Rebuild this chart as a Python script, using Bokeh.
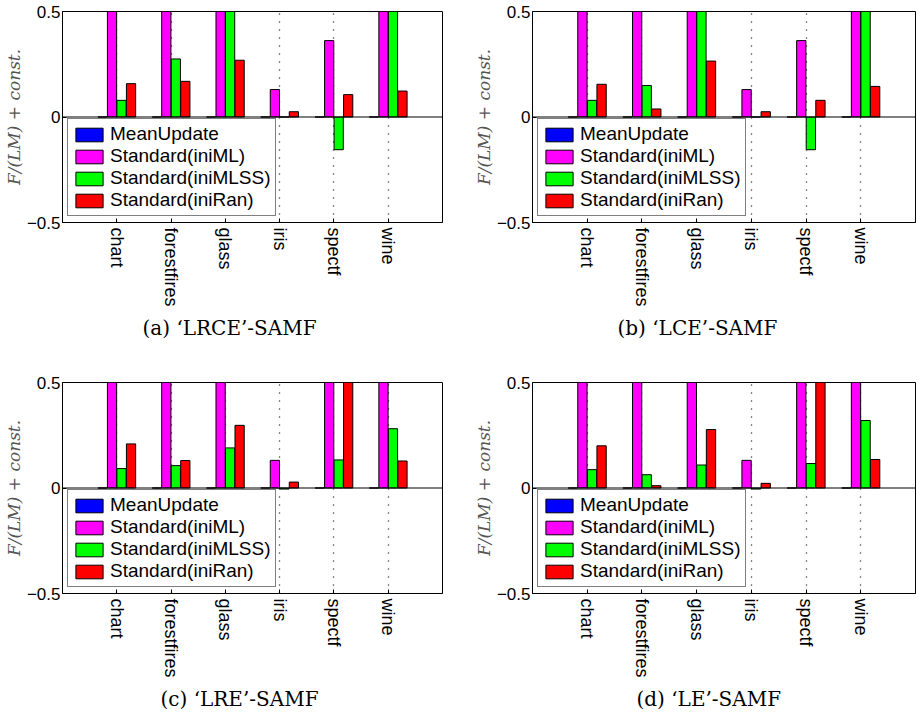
from bokeh.plotting import figure
from bokeh.models import ColumnDataSource, Range1d, FixedTicker, Span, Title
from bokeh.layouts import column, row
from bokeh.transform import dodge
from bokeh.embed import file_html
from bokeh.resources import INLINE

# ---------------- data ----------------
datasets = ["chart", "forestfires", "glass", "iris", "spectf", "wine"]
series = ["MeanUpdate", "Standard(iniML)", "Standard(iniMLSS)", "Standard(iniRan)"]
keys = ["mean", "iniML", "iniMLSS", "iniRan"]
colors = ["#0000ff", "#ff00ff", "#00ff00", "#ff0000"]
captions = ["(a) \u2018LRCE\u2019-SAMF", "(b) \u2018LCE\u2019-SAMF",
            "(c) \u2018LRE\u2019-SAMF", "(d) \u2018LE\u2019-SAMF"]
y_ticks = [-0.5, 0.0, 0.5]
y_tick_labels = ["\u22120.5", "0", "0.5"]
y_label = "F/(LM) + const."

# values above 0.5 run off the top of the axes (clipped in the original)
a_mean = [0, 0, 0, 0, 0, 0]
a_iniML = [0.6, 0.6, 0.6, 0.130, 0.362, 0.6]
a_iniMLSS = [0.079, 0.275, 0.6, 0.0, -0.155, 0.6]
a_iniRan = [0.158, 0.169, 0.269, 0.025, 0.106, 0.123]

b_mean = [0, 0, 0, 0, 0, 0]
b_iniML = [0.6, 0.6, 0.6, 0.130, 0.362, 0.6]
b_iniMLSS = [0.079, 0.149, 0.6, 0.0, -0.155, 0.6]
b_iniRan = [0.155, 0.038, 0.265, 0.025, 0.079, 0.145]

c_mean = [0, 0, 0, 0, 0, 0]
c_iniML = [0.6, 0.6, 0.6, 0.131, 0.6, 0.6]
c_iniMLSS = [0.092, 0.106, 0.190, -0.005, 0.133, 0.281]
c_iniRan = [0.209, 0.130, 0.297, 0.028, 0.6, 0.128]

d_mean = [0, 0, 0, 0, 0, 0]
d_iniML = [0.6, 0.6, 0.6, 0.131, 0.6, 0.6]
d_iniMLSS = [0.087, 0.063, 0.109, -0.005, 0.116, 0.320]
d_iniRan = [0.200, 0.011, 0.277, 0.022, 0.6, 0.135]

panels = [
    (a_mean, a_iniML, a_iniMLSS, a_iniRan),
    (b_mean, b_iniML, b_iniMLSS, b_iniRan),
    (c_mean, c_iniML, c_iniMLSS, c_iniRan),
    (d_mean, d_iniML, d_iniMLSS, d_iniRan),
]

# ---------------- style ----------------
offsets = [-0.2625, -0.0875, 0.0875, 0.2625]
bar_w = 0.17
sans = "Liberation Sans"
serif = "DejaVu Serif"
cap_offsets = [80, 85, 98, 104]

# geometry: (width, height, left, right, top, bottom)
geoms = [
    (450, 350, 60, 8, 11, 128),
    (466, 350, 82, 1, 11, 128),
    (450, 367, 60, 8, 32, 124),
    (466, 367, 82, 1, 32, 124),
]


def make_panel(i):
    w, h, bl, br, bt, bb = geoms[i]
    vals = panels[i]
    xs = list(range(1, len(datasets) + 1))
    data = dict(x=xs)
    for k, v in zip(keys, vals):
        data[k] = v
    src = ColumnDataSource(data)

    p = figure(width=w, height=h, title=None, output_backend="svg",
               toolbar_location=None, x_range=Range1d(0, len(datasets) + 1),
               y_range=Range1d(-0.5, 0.5),
               min_border_left=bl, min_border_right=br,
               min_border_top=bt, min_border_bottom=bb)
    p.background_fill_color = "white"
    p.border_fill_color = "white"
    p.outline_line_color = "black"
    p.outline_line_width = 1

    # grid
    p.ygrid.grid_line_color = None
    p.xgrid.ticker = FixedTicker(ticks=xs)
    p.xgrid.grid_line_color = "#111111"
    p.xgrid.grid_line_dash = "1 7"
    p.xgrid.grid_line_width = 1.3

    for k, name, col, off in zip(keys, series, colors, offsets):
        p.vbar(x=dodge("x", off), top=k, bottom=0, width=bar_w, source=src,
               fill_color=col, line_color="black", line_width=1,
               legend_label=name)

    p.add_layout(Span(location=0, dimension="width", line_color="black",
                      line_width=1))

    # axes
    xa = p.xaxis[0]
    xa.ticker = FixedTicker(ticks=xs)
    xa.major_label_overrides = {x: n for x, n in zip(xs, datasets)}
    xa.major_label_orientation = "vertical"
    xa.major_label_text_font = sans
    xa.major_label_text_font_size = "18px"
    xa.major_label_text_color = "black"
    xa.major_tick_in = 4
    xa.major_tick_out = 0
    xa.minor_tick_line_color = None
    xa.axis_line_color = "black"
    xa.major_label_standoff = 5

    ya = p.yaxis[0]
    ya.ticker = FixedTicker(ticks=y_ticks)
    ya.major_label_overrides = {t: s for t, s in zip(y_ticks, y_tick_labels)}
    ya.major_label_text_font = sans
    ya.major_label_text_font_size = "17px"
    ya.major_label_text_color = "black"
    ya.major_tick_in = 4
    ya.major_tick_out = 0
    ya.minor_tick_line_color = None
    ya.axis_line_color = "black"
    ya.major_label_standoff = 2
    ya.axis_label = y_label
    ya.axis_label_text_font = serif
    ya.axis_label_text_font_style = "italic"
    ya.axis_label_text_font_size = "17px"
    ya.axis_label_text_color = "#555555"
    ya.axis_label_standoff = 0

    # legend
    lg = p.legend[0]
    lg.location = (5, 6)
    lg.margin = 0
    lg.padding = 4
    lg.spacing = 0
    lg.glyph_width = 34
    lg.glyph_height = 17
    lg.label_height = 17
    lg.label_standoff = 4
    lg.label_text_font = sans
    lg.label_text_font_size = "19px"
    lg.label_text_color = "black"
    lg.border_line_color = "black"
    lg.border_line_width = 1.5
    lg.background_fill_color = "white"
    lg.background_fill_alpha = 1.0

    cap = Title(text=captions[i], align="left", offset=cap_offsets[i],
                text_font=serif, text_font_size="20px",
                text_font_style="normal", text_color="black", standoff=8)
    p.add_layout(cap, "below")
    return p


figs = [make_panel(i) for i in range(4)]
layout = column(row(figs[0], figs[1]), row(figs[2], figs[3]))

open("out.html", "w").write(file_html(layout, INLINE))
